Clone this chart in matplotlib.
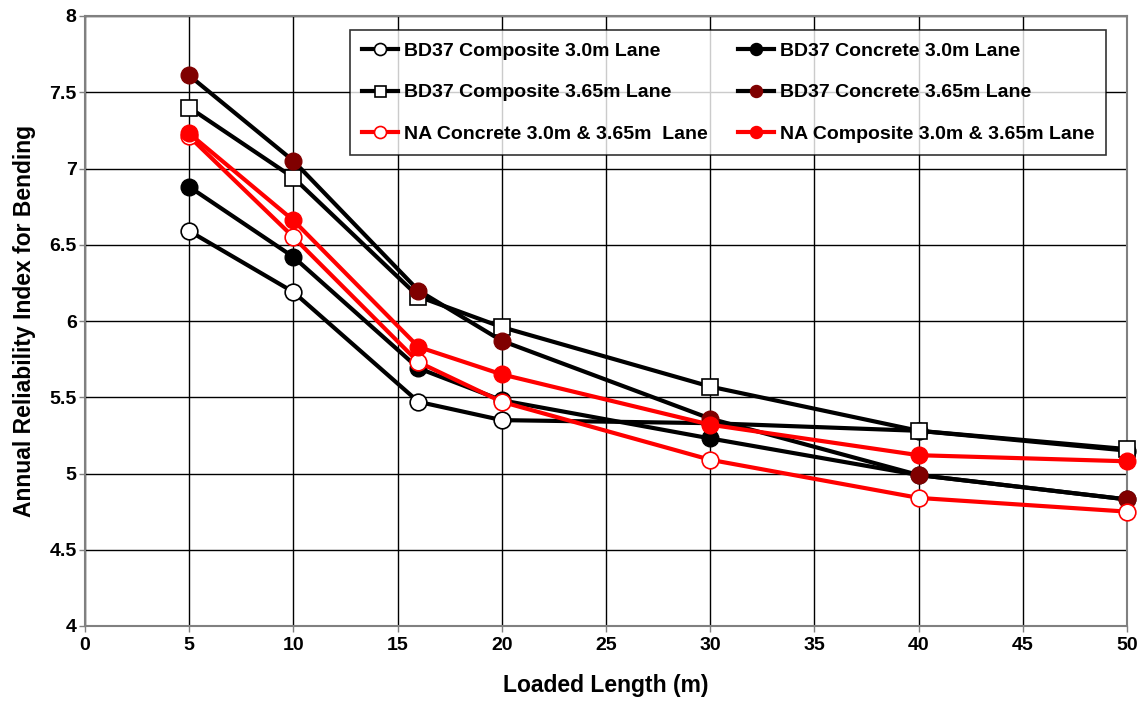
import matplotlib.pyplot as plt

plt.rcParams['font.family'] = ['Liberation Sans', 'DejaVu Sans']
plt.rcParams['font.weight'] = 'bold'

loaded_length = [5, 10, 16, 20, 30, 40, 50]

bd37_comp_30 = [6.59, 6.19, 5.47, 5.35, 5.33, 5.28, 5.15]
bd37_conc_30 = [6.88, 6.42, 5.69, 5.48, 5.23, 4.99, 4.83]
bd37_comp_365 = [7.40, 6.94, 6.16, 5.96, 5.57, 5.28, 5.16]
bd37_conc_365 = [7.61, 7.05, 6.20, 5.87, 5.36, 4.99, 4.83]
na_conc = [7.21, 6.55, 5.73, 5.47, 5.09, 4.84, 4.75]
na_comp = [7.23, 6.66, 5.83, 5.65, 5.32, 5.12, 5.08]

labels = [
    "BD37 Composite 3.0m Lane",
    "BD37 Concrete 3.0m Lane",
    "BD37 Composite 3.65m Lane",
    "BD37 Concrete 3.65m Lane",
    "NA Concrete 3.0m & 3.65m  Lane",
    "NA Composite 3.0m & 3.65m Lane",
]

fig = plt.figure(figsize=(11.47, 7.06), dpi=100)
ax = fig.add_axes([85 / 1147, 1 - 626 / 706, (1127 - 85) / 1147, (626 - 16) / 706])

lw = 3
ms = 12
common = dict(lw=lw, ms=ms, clip_on=False, zorder=3)
h1, = ax.plot(loaded_length, bd37_comp_30, color="black", marker="o",
              mfc="white", mec="black", mew=1.2, label=labels[0], **common)
h2, = ax.plot(loaded_length, bd37_conc_30, color="black", marker="o",
              mfc="black", mec="black", label=labels[1], **common)
h3, = ax.plot(loaded_length, bd37_comp_365, color="black", marker="s",
              mfc="white", mec="black", mew=1.2, label=labels[2],
              **dict(common, ms=11))
h4, = ax.plot(loaded_length, bd37_conc_365, color="black", marker="o",
              mfc="#800000", mec="#800000", label=labels[3], **common)
h5, = ax.plot(loaded_length, na_conc, color="red", marker="o",
              mfc="white", mec="red", mew=1.2, label=labels[4], **common)
h6, = ax.plot(loaded_length, na_comp, color="red", marker="o",
              mfc="red", mec="red", label=labels[5], **common)

ax.set_xlim(0, 50)
ax.set_ylim(4, 8)
ax.set_xticks(range(0, 51, 5))
ax.set_yticks([4, 4.5, 5, 5.5, 6, 6.5, 7, 7.5, 8])
ax.set_yticklabels(["4", "4.5", "5", "5.5", "6", "6.5", "7", "7.5", "8"])
ax.tick_params(labelsize=14, length=4, width=1, color="#808080", direction="out")
ax.tick_params(axis="y", pad=2)
ax.tick_params(axis="x", pad=4)
ax.grid(True, color="black", lw=1)
ax.set_axisbelow(True)
for s in ax.spines.values():
    s.set_color("#808080")
    s.set_linewidth(1.5)

ax.set_xlabel("Loaded Length (m)", fontsize=16.5, fontweight="bold", labelpad=14)
ax.set_ylabel("Annual Reliability Index for Bending", fontsize=16.5, fontweight="bold", labelpad=10)

leg = ax.legend([h1, h3, h5, h2, h4, h6],
                [labels[0], labels[2], labels[4], labels[1], labels[3], labels[5]],
                ncol=2, loc="upper left", bbox_to_anchor=((350 - 85) / 1042, (626 - 30) / 610),
                borderaxespad=0, fontsize=14, frameon=True, fancybox=False,
                edgecolor="black", handlelength=1.85, handletextpad=0.3,
                columnspacing=1.55, labelspacing=1.24, borderpad=0.62,
                markerscale=0.72)
leg.get_frame().set_linewidth(1.2)

plt.savefig("out.png", dpi=100)
